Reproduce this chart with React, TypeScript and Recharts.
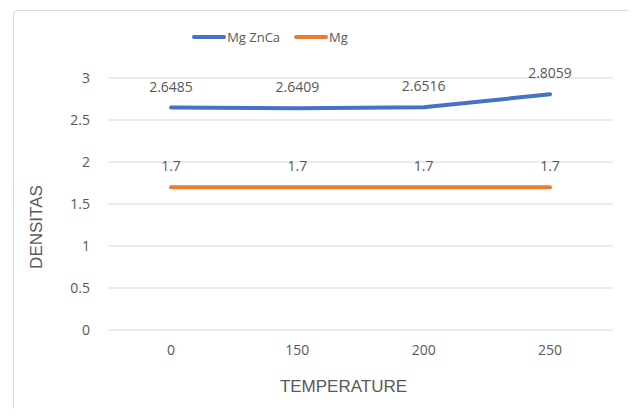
import React from 'react'
import {
  LineChart,
  Line,
  XAxis,
  YAxis,
  CartesianGrid,
  Legend,
  LabelList,
} from 'recharts'

// temperatures on the x axis
const temperatures = ['0', '150', '200', '250']
// density values per series
const mgZnCa = [2.6485, 2.6409, 2.6516, 2.8059]
const mg = [1.7, 1.7, 1.7, 1.7]
const yTicks = [0, 0.5, 1, 1.5, 2, 2.5, 3]
const seriesOrder = ['Mg ZnCa', 'Mg']

const data = temperatures.map((t, i) => ({
  temp: t,
  mgZnCa: mgZnCa[i],
  mg: mg[i],
}))

const TEXT = '#595959'
const FONT = '"Open Sans", "Noto Sans", sans-serif'
const TITLE_FONT = '"Liberation Sans Narrow", "Liberation Sans", sans-serif'

const renderLegend = (props: any) => {
  const payload = [...(props.payload || [])].sort(
    (a: any, b: any) => seriesOrder.indexOf(a.value) - seriesOrder.indexOf(b.value)
  )
  return (
    <div style={{ display: 'flex', justifyContent: 'center', gap: 14, fontFamily: FONT, fontSize: 13, color: TEXT }}>
      {payload.map((p: any) => (
        <div key={p.value} style={{ display: 'flex', alignItems: 'center' }}>
          <span style={{ display: 'inline-block', width: 34, height: 4, borderRadius: 2, background: p.color, marginRight: 1 }} />
          <span>{p.value}</span>
        </div>
      ))}
    </div>
  )
}

export default function App() {
  return (
    <div style={{ margin: -8, position: 'relative', width: 636, height: 417, background: '#fff', overflow: 'hidden' }}>
      <div style={{
        position: 'absolute', left: 13, top: 10, width: 640, height: 420,
        border: '1px solid #d9d9d9', borderRadius: 4,
      }} />
      <LineChart
        width={636}
        height={417}
        data={data}
        margin={{ top: 78, right: 23, bottom: 57, left: 48 }}
        style={{ position: 'absolute', left: 0, top: 0 }}
      >
        <CartesianGrid vertical={false} stroke="#d9d9d9" />
        <XAxis
          dataKey="temp"
          height={30}
          padding={{ left: 63, right: 63 }}
          axisLine={false}
          tickLine={false}
          tickMargin={9}
          tick={{ fill: TEXT, fontSize: 14, fontFamily: FONT }}
          label={{
            content: ({ viewBox }: any) => (
              <text x={viewBox.x + viewBox.width / 2 - 17} y={392} textAnchor="middle"
                fill={TEXT} fontSize={17} fontFamily={TITLE_FONT}>TEMPERATURE</text>
            ),
          }}
        />
        <YAxis
          width={60}
          domain={[0, 3]}
          ticks={yTicks}
          axisLine={false}
          tickLine={false}
          tickMargin={12}
          tick={{ fill: TEXT, fontSize: 14, fontFamily: FONT }}
          label={{
            content: ({ viewBox }: any) => {
              const cx = 42
              const cy = viewBox.y + viewBox.height / 2 + 23
              return (
                <text x={cx} y={cy} transform={`rotate(-90, ${cx}, ${cy})`} textAnchor="middle"
                  fill={TEXT} fontSize={17} fontFamily={TITLE_FONT}>DENSITAS</text>
              )
            },
          }}
        />
        <Legend
          verticalAlign="middle"
          align="center"
          content={renderLegend}
          wrapperStyle={{ top: 28, left: 0, width: 540 }}
        />
        <Line
          name="Mg ZnCa"
          dataKey="mgZnCa"
          stroke="#4472C4"
          strokeWidth={4}
          strokeLinecap="round"
          dot={false}
          isAnimationActive={false}
        >
          <LabelList dataKey="mgZnCa" position="top" offset={16} fill={TEXT} fontSize={14} fontFamily={FONT} />
        </Line>
        <Line
          name="Mg"
          dataKey="mg"
          stroke="#ED7D31"
          strokeWidth={4}
          strokeLinecap="round"
          dot={false}
          isAnimationActive={false}
        >
          <LabelList dataKey="mg" position="top" offset={16} fill={TEXT} fontSize={14} fontFamily={FONT} />
        </Line>
      </LineChart>
    </div>
  )
}
